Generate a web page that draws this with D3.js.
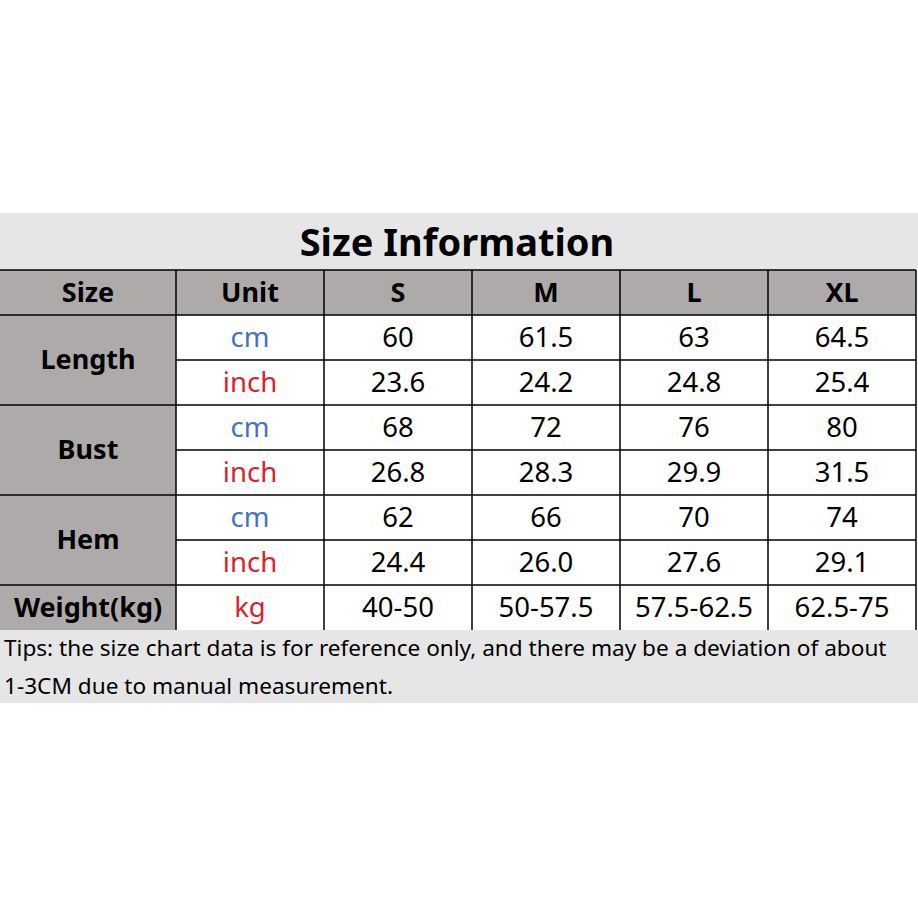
<!DOCTYPE html>
<html>
<head>
<meta charset="utf-8">
<script src="https://cdn.jsdelivr.net/npm/d3@7"></script>
<style>
  body { margin: 0; background: #fff; }
  svg { display: block; }
</style>
</head>
<body>
<svg id="chart" width="918" height="918"></svg>
<script>
var title = "Size Information";
var sizes = ["S", "M", "L", "XL"];
var measures = ["Length", "Bust", "Hem"];
var units = ["cm", "inch"];
var lengthVals = [["60", "61.5", "63", "64.5"], ["23.6", "24.2", "24.8", "25.4"]];
var bustVals = [["68", "72", "76", "80"], ["26.8", "28.3", "29.9", "31.5"]];
var hemVals = [["62", "66", "70", "74"], ["24.4", "26.0", "27.6", "29.1"]];
var weightVals = ["40-50", "50-57.5", "57.5-62.5", "62.5-75"];
var tips = ["Tips: the size chart data is for reference only, and there may be a deviation of about",
            "1-3CM due to manual measurement."];

var svg = d3.select("#chart");
var font = "'Noto Sans', 'Open Sans', sans-serif";
var unitColor = { cm: "#4472c4", inch: "#d9222e", kg: "#d9222e" };

// columns: size label, unit, then one per size
var colX = d3.scaleBand().domain(sizes).range([324, 916]);
var firstW = 176, unitW = 148;
// rows: header + 2 per measure + weight
var rowKeys = ["head"];
measures.forEach(function(m){ units.forEach(function(u){ rowKeys.push(m + "-" + u); }); });
rowKeys.push("weight");
var rowY = d3.scaleBand().domain(rowKeys).range([270, 630]);
var rh = rowY.bandwidth();

// title band
svg.append("rect").attr("x", 0).attr("y", 213).attr("width", 918).attr("height", 57).attr("fill", "#e7e6e6");
svg.append("text").attr("x", 457).attr("y", 241).attr("text-anchor", "middle").attr("dominant-baseline", "central")
  .attr("font-family", font).attr("font-weight", "bold").attr("font-size", 38).text(title);

// tips band
svg.append("rect").attr("x", 0).attr("y", 630).attr("width", 918).attr("height", 73).attr("fill", "#e7e6e6");
svg.selectAll("text.tip").data(tips).enter().append("text").attr("class", "tip")
  .attr("x", 4).attr("y", function(d, i){ return 647 + i * 38; })
  .attr("dominant-baseline", "central").attr("font-family", font).attr("font-size", 22.6).text(function(d){ return d; });

// gray header + first column
svg.append("rect").attr("x", 0).attr("y", rowY("head")).attr("width", 916).attr("height", rh).attr("fill", "#aeaaaa");
svg.append("rect").attr("x", 0).attr("y", rowY("head")).attr("width", firstW).attr("height", 360).attr("fill", "#aeaaaa");

function cell(x, y, w, txt, opts) {
  opts = opts || {};
  svg.append("text").attr("x", x + w / 2).attr("y", y + rh / 2 - 1.5)
    .attr("text-anchor", "middle").attr("dominant-baseline", "central")
    .attr("font-family", font).attr("font-size", opts.bold ? 27 : 27.5)
    .attr("font-weight", opts.bold ? "bold" : "normal")
    .attr("fill", opts.color || "#000").text(txt);
}

// header
cell(0, rowY("head"), firstW, "Size", { bold: true });
cell(firstW, rowY("head"), unitW, "Unit", { bold: true });
sizes.forEach(function(s){ cell(colX(s), rowY("head"), colX.bandwidth(), s, { bold: true }); });

// measure rows
var allVals = { Length: lengthVals, Bust: bustVals, Hem: hemVals };
measures.forEach(function(m){
  var y0 = rowY(m + "-cm");
  svg.append("text").attr("x", firstW / 2).attr("y", y0 + rh - 2)
    .attr("text-anchor", "middle").attr("dominant-baseline", "central")
    .attr("font-family", font).attr("font-size", 27).attr("font-weight", "bold").text(m);
  units.forEach(function(u, ui){
    var y = rowY(m + "-" + u);
    cell(firstW, y, unitW, u, { color: unitColor[u] });
    sizes.forEach(function(s, si){ cell(colX(s), y, colX.bandwidth(), allVals[m][ui][si]); });
  });
});

// weight row
cell(0, rowY("weight"), firstW, "Weight(kg)", { bold: true });
cell(firstW, rowY("weight"), unitW, "kg", { color: unitColor.kg });
sizes.forEach(function(s, si){ cell(colX(s), rowY("weight"), colX.bandwidth(), weightVals[si]); });

// grid lines
var g = svg.append("g").attr("stroke", "#000").attr("stroke-width", 1.5);
// horizontal
rowKeys.forEach(function(k){
  var y = rowY(k);
  var isInner = k.indexOf("-inch") > 0;
  g.append("line").attr("x1", isInner ? firstW : 0).attr("x2", 916).attr("y1", y).attr("y2", y);
});
// vertical
var vx = [firstW, firstW + unitW].concat(sizes.slice(1).map(function(s){ return colX(s); })).concat([916]);
vx.forEach(function(x){
  g.append("line").attr("x1", x).attr("x2", x).attr("y1", 270).attr("y2", 630);
});
</script>
</body>
</html>
